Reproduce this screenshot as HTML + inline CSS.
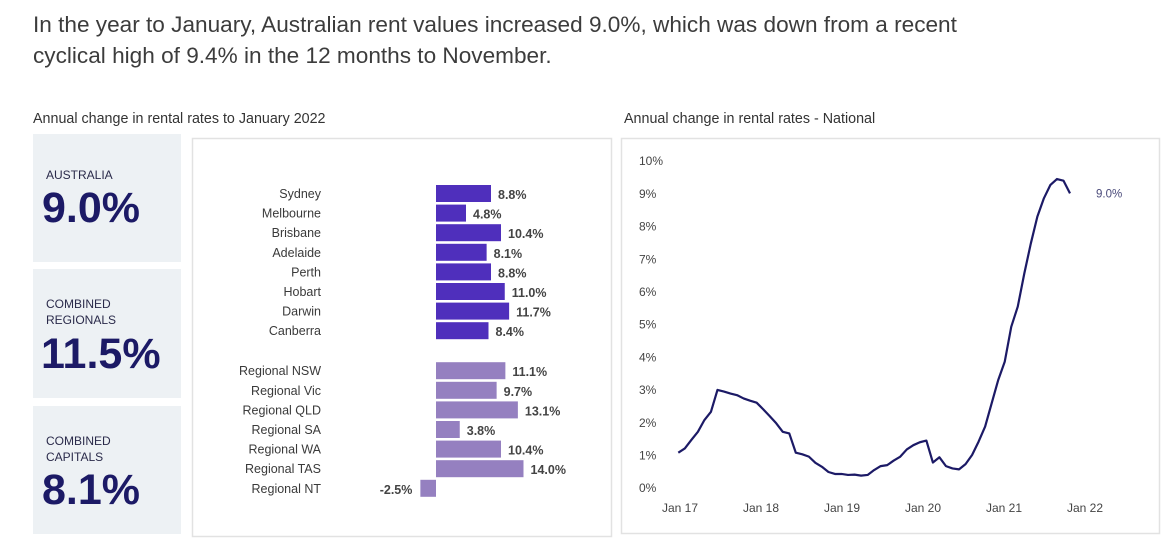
<!DOCTYPE html>
<html><head><meta charset="utf-8"><style>
body{margin:0;background:#fff;width:1168px;height:549px;overflow:hidden;font-family:"Liberation Sans",sans-serif}
</style></head><body>
<svg width="1168" height="549" viewBox="0 0 1168 549" font-family="Liberation Sans, sans-serif">
<text x="33" y="32" font-size="22.6" fill="#3c3c3c">In the year to January, Australian rent values increased 9.0%, which was down from a recent</text>
<text x="33" y="63" font-size="22.6" fill="#3c3c3c">cyclical high of 9.4% in the 12 months to November.</text>
<text x="33" y="123" font-size="14.3" fill="#333">Annual change in rental rates to January 2022</text>
<text x="624" y="123" font-size="14.3" fill="#333">Annual change in rental rates - National</text>

<g>
<rect x="33" y="134" width="148" height="128" fill="#edf1f4"/>
<text x="46" y="179" font-size="12" fill="#2a2a4a">AUSTRALIA</text>
<text x="42" y="222" font-size="43" font-weight="bold" fill="#1c1a66">9.0%</text></g>
<g>
<rect x="33" y="269" width="148" height="129" fill="#edf1f4"/>
<text x="46" y="308" font-size="12" fill="#2a2a4a">COMBINED</text>
<text x="46" y="324" font-size="12" fill="#2a2a4a">REGIONALS</text>
<text x="41" y="368" font-size="43" font-weight="bold" fill="#1c1a66">11.5%</text></g>
<g>
<rect x="33" y="406" width="148" height="128" fill="#edf1f4"/>
<text x="46" y="445" font-size="12" fill="#2a2a4a">COMBINED</text>
<text x="46" y="461" font-size="12" fill="#2a2a4a">CAPITALS</text>
<text x="42" y="504" font-size="43" font-weight="bold" fill="#1c1a66">8.1%</text></g>

<rect x="192.5" y="138.5" width="419" height="398" fill="#fff" stroke="#e2e2e2" stroke-width="1.5"/>
<rect x="621.5" y="138.5" width="538" height="395" fill="#fff" stroke="#e2e2e2" stroke-width="1.5"/>
<g id="bars"></g>
<g id="line"></g>
</svg>
<script>
const capCities=["Sydney","Melbourne","Brisbane","Adelaide","Perth","Hobart","Darwin","Canberra"];
const capValues=[8.8,4.8,10.4,8.1,8.8,11.0,11.7,8.4];
const regAreas=["Regional NSW","Regional Vic","Regional QLD","Regional SA","Regional WA","Regional TAS","Regional NT"];
const regValues=[11.1,9.7,13.1,3.8,10.4,14.0,-2.5];
const months=["Jan 17","Feb 17","Mar 17","Apr 17","May 17","Jun 17","Jul 17","Aug 17","Sep 17","Oct 17","Nov 17","Dec 17","Jan 18","Feb 18","Mar 18","Apr 18","May 18","Jun 18","Jul 18","Aug 18","Sep 18","Oct 18","Nov 18","Dec 18","Jan 19","Feb 19","Mar 19","Apr 19","May 19","Jun 19","Jul 19","Aug 19","Sep 19","Oct 19","Nov 19","Dec 19","Jan 20","Feb 20","Mar 20","Apr 20","May 20","Jun 20","Jul 20","Aug 20","Sep 20","Oct 20","Nov 20","Dec 20","Jan 21","Feb 21","Mar 21","Apr 21","May 21","Jun 21","Jul 21","Aug 21","Sep 21","Oct 21","Nov 21","Dec 21","Jan 22"];
const nationalValues=[1.07,1.2,1.46,1.71,2.07,2.32,2.99,2.94,2.88,2.83,2.73,2.66,2.6,2.4,2.19,1.97,1.71,1.66,1.07,1.02,0.95,0.76,0.64,0.48,0.42,0.42,0.39,0.40,0.37,0.39,0.54,0.66,0.69,0.83,0.95,1.17,1.3,1.39,1.44,0.77,0.93,0.66,0.59,0.56,0.72,1.0,1.41,1.87,2.58,3.29,3.85,4.92,5.54,6.55,7.47,8.29,8.85,9.26,9.44,9.39,9.0];
const yTicks=[0,1,2,3,4,5,6,7,8,9,10];
const xTickLabels=["Jan 17","Jan 18","Jan 19","Jan 20","Jan 21","Jan 22"];
const NS="http://www.w3.org/2000/svg";
function mk(t,a,p){const e=document.createElementNS(NS,t);for(const k in a)e.setAttribute(k,a[k]);p.appendChild(e);return e;}
const bx=v=>436+v*6.25;
const bars=document.getElementById('bars');
function drawBar(label,v,cy,color){
  const g=mk('g',{},bars);
  
  
  const x0=Math.min(bx(0),bx(v)),w=Math.abs(bx(v)-bx(0));
  mk('rect',{x:x0,y:cy-8.5,width:w,height:17,fill:color},g);
  const t=mk('text',{x:321,y:cy+4.5,'font-size':12.5,fill:'#3a3a3a','text-anchor':'end'},g);t.textContent=label;
  const lv=mk('text',{x:v>=0?bx(v)+7:bx(v)-8,y:cy+5.5,'font-size':12.5,'font-weight':'bold',fill:'#444','text-anchor':v>=0?'start':'end'},g);
  lv.textContent=v.toFixed(1)+'%';
}
capCities.forEach((c,i)=>drawBar(c,capValues[i],193.5+i*19.6,'#4f2fbc'));
regAreas.forEach((c,i)=>drawBar(c,regValues[i],370.7+i*19.6,'#9580c0'));
const lx=i=>678.3+i*(1070-678.3)/60;
const ly=v=>487.7-v*(487.7-160.7)/10;
const line=document.getElementById('line');
yTicks.forEach(v=>{const t=mk('text',{x:639,y:ly(v)+4.5,'font-size':12,fill:'#444'},line);t.textContent=v+'%';

});
xTickLabels.forEach((l,k)=>{const t=mk('text',{x:680+k*81,y:512,'font-size':12,fill:'#444','text-anchor':'middle'},line);t.textContent=l;

});
const p=mk('polyline',{points:nationalValues.map((v,i)=>lx(i)+','+ly(v)).join(' '),fill:'none',stroke:'#1c1a66','stroke-width':2.2,'stroke-linejoin':'round'},line);


const last=nationalValues.length-1;
const el=mk('text',{x:lx(last)+26,y:ly(nationalValues[last])+4,'font-size':11.5,fill:'#4a4a7a'},line);
el.textContent=nationalValues[last].toFixed(1)+'%';


</script>
</body></html>
